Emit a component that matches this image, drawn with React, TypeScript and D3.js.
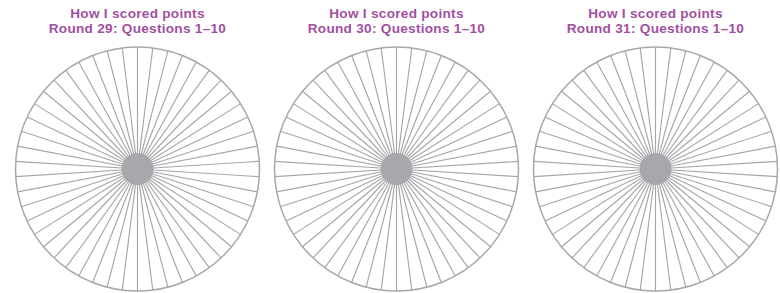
import React from "react";
import * as d3 from "d3";

const rounds = [29, 30, 31];
const titleLine1 = "How I scored points";
const questionRange = "1–10";
const spokeCount = 50;

const W = 780;
const H = 293;

export default function App() {
  const x = d3.scaleBand<number>().domain(rounds).range([8, 785]).padding(0);
  const cy = 169;
  const R = 122;
  const hubR = 16;
  const angle = d3.scaleLinear().domain([0, spokeCount]).range([0, 2 * Math.PI]);
  const spokes = d3.range(spokeCount);

  const titleStyle = {
    fontFamily: "'Liberation Sans', Arial, sans-serif",
    fontWeight: "bold" as const,
    fontSize: 13.6,
    letterSpacing: 0.28,
  };

  return (
    <svg
      width={W}
      height={H}
      style={{ position: "absolute", left: 0, top: 0, background: "#fff" }}
    >
      {rounds.map((r) => {
        const cx = (x(r) as number) + x.bandwidth() / 2;
        return (
          <g key={r}>
            <text x={cx} y={17.6} textAnchor="middle" fill="#a24f9f" style={titleStyle}>
              {titleLine1}
            </text>
            <text x={cx} y={32.9} textAnchor="middle" fill="#a24f9f" style={titleStyle}>
              {`Round ${r}: Questions ${questionRange}`}
            </text>
            {spokes.map((i) => {
              const a = angle(i);
              return (
                <line
                  key={i}
                  x1={cx}
                  y1={cy}
                  x2={cx + R * Math.sin(a)}
                  y2={cy - R * Math.cos(a)}
                  stroke="#a5a6a9"
                  strokeWidth={1.15}
                />
              );
            })}
            <circle cx={cx} cy={cy} r={R} fill="none" stroke="#a7a8ab" strokeWidth={1.5} />
            <circle cx={cx} cy={cy} r={hubR} fill="#a7a8ab" />
          </g>
        );
      })}
    </svg>
  );
}
